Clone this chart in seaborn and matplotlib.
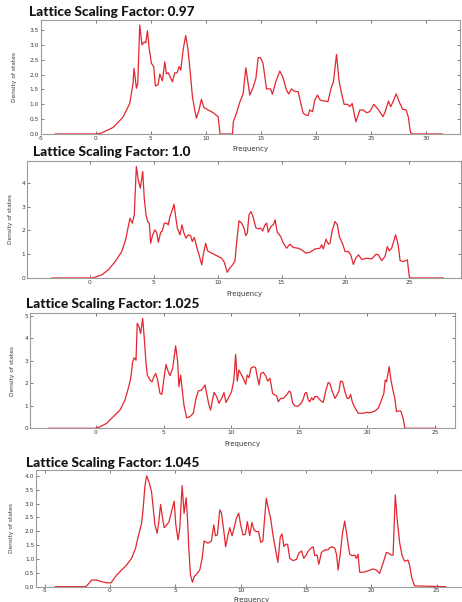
import numpy as np
import pandas as pd
import matplotlib
matplotlib.use("Agg")
import matplotlib.pyplot as plt
import seaborn as sns

# ---------------- data ----------------
titles = ["Lattice Scaling Factor: 0.97", "Lattice Scaling Factor: 1.0",
          "Lattice Scaling Factor: 1.025", "Lattice Scaling Factor: 1.045"]

freq_097 = [
    -3.7, 0.0, 0.5, 1.0, 1.58, 2.0, 2.48, 3.09, 3.39, 3.48,
    3.7, 3.82, 4.0, 4.2, 4.39, 4.55, 4.7, 4.85, 5.06, 5.27,
    5.42, 5.67, 5.82, 6.06, 6.27, 6.42, 6.6, 6.79, 6.97, 7.18,
    7.39, 7.58, 7.73, 7.94, 8.18, 8.39, 8.6, 8.79, 9.0, 9.15,
    9.39, 9.6, 9.82, 10.2, 10.67, 11.12, 11.3, 12.43, 12.5, 12.79,
    13.09, 13.39, 13.64, 14.0, 14.3, 14.55, 14.76, 14.97, 15.2, 15.52,
    15.88, 16.06, 16.36, 16.73, 17.0, 17.33, 17.54, 17.79, 18.09, 18.39,
    18.6, 18.85, 19.09, 19.3, 19.45, 19.7, 19.9, 20.15, 20.4, 20.8,
    21.1, 21.4, 21.6, 21.88, 22.1, 22.3, 22.57, 22.88, 23.1, 23.3,
    23.64, 24.0, 24.3, 24.6, 24.9, 25.27, 25.67, 26.1, 26.3, 26.6,
    26.8, 27.0, 27.3, 27.6, 27.9, 28.2, 28.4, 28.6, 28.8, 31.5]
dos_097 = [
    0.0, 0.0, 0.03, 0.12, 0.22, 0.38, 0.57, 1.03, 1.71, 2.21,
    1.54, 1.71, 3.67, 3.0, 3.1, 3.07, 3.48, 2.9, 2.38, 2.27,
    1.62, 1.66, 2.02, 1.79, 2.43, 2.03, 2.06, 1.9, 1.76, 2.06,
    2.06, 2.27, 2.15, 2.83, 3.32, 2.83, 2.02, 1.25, 0.81, 0.53,
    0.81, 1.17, 0.9, 0.81, 0.72, 0.58, 0.0, 0.0, 0.41, 0.7,
    1.07, 1.35, 2.23, 1.31, 1.56, 1.87, 2.57, 2.57, 2.38, 1.52,
    1.52, 1.34, 1.76, 2.12, 1.92, 1.48, 1.35, 1.52, 1.43, 1.43,
    1.09, 0.7, 0.64, 0.62, 0.81, 0.75, 1.14, 1.31, 1.14, 1.11,
    1.09, 1.56, 1.76, 2.68, 1.82, 1.43, 1.0, 1.0, 0.92, 1.03,
    0.41, 0.81, 0.81, 0.72, 0.75, 1.0, 0.83, 0.58, 0.75, 1.11,
    0.92, 1.07, 1.35, 1.06, 0.83, 0.81, 0.58, 0.05, 0.0, 0.0]

freq_100 = [
    -3.0, 0.2, 0.91, 1.44, 1.96, 2.48, 2.79, 3.0, 3.13, 3.31,
    3.47, 3.63, 3.78, 3.94, 4.13, 4.25, 4.39, 4.52, 4.65, 4.75,
    4.91, 5.09, 5.22, 5.35, 5.54, 5.66, 5.82, 6.0, 6.13, 6.26,
    6.45, 6.58, 6.71, 6.84, 7.05, 7.2, 7.36, 7.52, 7.7, 7.88,
    8.01, 8.17, 8.35, 8.54, 8.75, 8.87, 9.06, 9.21, 9.53, 9.92,
    10.31, 10.52, 10.75, 10.96, 11.17, 11.35, 11.49, 11.67, 11.88, 12.06,
    12.19, 12.32, 12.45, 12.61, 12.79, 12.98, 13.18, 13.37, 13.52, 13.7,
    13.84, 13.96, 14.17, 14.38, 14.49, 14.67, 14.93, 15.14, 15.4, 15.66,
    15.92, 16.31, 16.58, 16.91, 17.23, 17.62, 18.01, 18.14, 18.27, 18.48,
    18.66, 18.79, 18.98, 19.19, 19.37, 19.52, 19.79, 19.97, 20.23, 20.42,
    20.62, 20.81, 21.02, 21.28, 21.67, 22.06, 22.4, 22.58, 22.84, 23.1,
    23.28, 23.44, 23.62, 23.93, 24.14, 24.28, 24.53, 24.85, 25.0, 25.1,
    27.67]
dos_100 = [
    0.0, 0.0, 0.13, 0.34, 0.68, 1.1, 1.6, 2.16, 2.51, 2.3,
    2.65, 4.68, 4.12, 3.77, 4.47, 3.35, 2.65, 2.37, 2.3, 1.46,
    1.81, 2.02, 1.92, 1.5, 1.92, 1.97, 2.3, 2.3, 2.23, 2.58,
    2.86, 3.1, 2.58, 2.09, 1.81, 2.23, 1.88, 1.67, 1.81, 1.78,
    1.53, 1.7, 1.32, 0.97, 0.55, 0.97, 1.46, 1.14, 1.04, 0.94,
    0.83, 0.66, 0.24, 0.43, 0.55, 0.71, 1.53, 2.4, 2.3, 2.09,
    1.78, 1.88, 2.65, 2.79, 2.54, 2.12, 2.06, 2.09, 1.97, 2.23,
    2.3, 1.92, 2.16, 2.25, 2.44, 1.92, 1.74, 1.46, 1.25, 1.42,
    1.28, 1.25, 1.18, 1.04, 1.08, 1.22, 1.25, 1.39, 1.22, 1.63,
    1.42, 1.46, 2.02, 2.37, 2.23, 1.74, 1.42, 1.11, 1.11, 0.97,
    0.57, 0.83, 0.97, 0.78, 0.83, 0.8, 1.0, 0.97, 0.73, 0.9,
    1.32, 1.14, 1.25, 1.81, 1.36, 0.73, 0.69, 0.76, 0.06, 0.0,
    0.0]

freq_1025 = [
    -3.5, 0.0, 0.32, 0.81, 1.3, 1.79, 2.16, 2.4, 2.58, 2.72,
    2.84, 2.97, 3.06, 3.19, 3.31, 3.46, 3.58, 3.7, 3.8, 4.0,
    4.15, 4.29, 4.42, 4.56, 4.73, 4.88, 5.03, 5.18, 5.3, 5.47,
    5.67, 5.77, 5.89, 6.04, 6.13, 6.26, 6.35, 6.5, 6.7, 6.94,
    7.19, 7.39, 7.56, 7.8, 8.05, 8.17, 8.34, 8.47, 8.62, 8.73,
    8.91, 9.08, 9.28, 9.45, 9.6, 9.76, 10.01, 10.18, 10.31, 10.43,
    10.55, 10.75, 10.92, 11.05, 11.16, 11.29, 11.44, 11.61, 11.78, 11.9,
    12.03, 12.17, 12.34, 12.52, 12.67, 12.84, 13.03, 13.2, 13.33, 13.45,
    13.62, 13.81, 14.06, 14.26, 14.36, 14.5, 14.68, 14.92, 15.17, 15.29,
    15.41, 15.54, 15.66, 15.78, 15.9, 16.02, 16.15, 16.32, 16.52, 16.76,
    16.96, 17.13, 17.25, 17.42, 17.62, 17.75, 17.92, 18.04, 18.19, 18.36,
    18.53, 18.65, 18.78, 18.9, 19.09, 19.34, 19.7, 19.96, 20.2, 20.57,
    20.81, 21.06, 21.23, 21.33, 21.43, 21.62, 21.75, 21.92, 22.04, 22.16,
    22.28, 22.48, 22.65, 22.78, 25.1]
dos_1025 = [
    0.0, 0.0, 0.07, 0.22, 0.52, 0.81, 1.26, 1.78, 2.22, 2.96,
    3.14, 3.03, 4.67, 4.52, 4.22, 4.89, 4.0, 2.96, 2.37, 2.15,
    2.07, 2.3, 2.44, 2.15, 1.56, 1.51, 2.22, 2.84, 2.59, 2.34,
    2.67, 3.11, 3.67, 2.96, 1.85, 2.37, 1.85, 1.04, 0.47, 0.52,
    0.67, 1.33, 1.66, 1.7, 1.93, 1.56, 1.04, 0.81, 1.33, 1.6,
    1.41, 1.11, 1.33, 1.59, 1.15, 1.33, 1.63, 2.15, 3.29, 2.1,
    2.59, 2.37, 2.15, 1.96, 2.37, 2.25, 2.67, 2.74, 2.7, 2.3,
    1.93, 2.44, 2.49, 2.34, 2.1, 2.22, 1.56, 1.48, 1.45, 1.18,
    1.33, 1.33, 1.48, 1.66, 1.6, 1.14, 0.99, 0.99, 1.14, 1.3,
    1.56, 1.6, 1.26, 1.18, 1.36, 1.26, 1.41, 1.41, 1.26, 1.15,
    1.7, 2.04, 2.0, 1.66, 1.33, 1.45, 1.66, 2.1, 2.07, 1.63,
    1.33, 1.33, 1.51, 1.18, 0.92, 0.67, 0.67, 0.71, 0.69, 0.77,
    0.89, 1.26, 1.56, 2.15, 2.07, 2.74, 2.15, 1.63, 1.33, 0.74,
    0.77, 0.77, 0.44, 0.0, 0.0]

freq_1045 = [
    -4.2, -1.85, -1.73, -1.4, -1.02, -0.64, -0.25, 0.08, 0.51, 0.89,
    1.27, 1.65, 1.96, 2.16, 2.42, 2.54, 2.67, 2.8, 2.98, 3.18,
    3.31, 3.44, 3.61, 3.74, 3.87, 4.02, 4.15, 4.33, 4.5, 4.71,
    4.91, 5.04, 5.21, 5.34, 5.52, 5.67, 5.83, 5.93, 6.03, 6.16,
    6.31, 6.44, 6.62, 6.87, 7.05, 7.2, 7.5, 7.76, 7.94, 8.07,
    8.22, 8.4, 8.52, 8.7, 8.85, 9.03, 9.16, 9.34, 9.49, 9.67,
    9.85, 10.0, 10.18, 10.36, 10.51, 10.69, 10.86, 11.02, 11.2, 11.37,
    11.53, 11.7, 11.83, 11.96, 12.14, 12.29, 12.47, 12.67, 12.85, 13.03,
    13.16, 13.31, 13.44, 13.59, 13.76, 14.02, 14.27, 14.45, 14.66, 14.83,
    15.04, 15.17, 15.37, 15.55, 15.67, 15.85, 15.98, 16.18, 16.44, 16.69,
    16.82, 17.0, 17.2, 17.33, 17.46, 17.63, 17.79, 17.96, 18.14, 18.34,
    18.53, 18.73, 18.85, 18.98, 19.11, 19.37, 19.72, 20.13, 20.38, 20.63,
    20.89, 21.15, 21.32, 21.53, 21.66, 21.83, 21.98, 22.16, 22.34, 22.54,
    22.8, 22.92, 23.1, 23.31, 25.7]
dos_1045 = [
    0.0, 0.0, 0.06, 0.24, 0.24, 0.18, 0.14, 0.14, 0.42, 0.6,
    0.78, 1.02, 1.39, 1.81, 2.29, 2.83, 3.61, 4.0, 3.79, 3.43,
    2.83, 2.23, 1.93, 2.35, 2.97, 2.49, 2.13, 2.23, 2.32, 2.71,
    3.09, 2.23, 1.69, 2.11, 3.65, 2.65, 3.21, 2.47, 1.39, 0.42,
    0.16, 0.36, 0.45, 0.6, 1.02, 1.65, 1.57, 1.65, 2.23, 1.84,
    1.87, 2.77, 2.68, 2.05, 1.44, 1.87, 2.13, 1.84, 2.11, 2.47,
    2.65, 2.23, 1.87, 1.89, 2.35, 1.84, 2.32, 2.05, 1.99, 1.99,
    1.6, 1.65, 2.47, 3.19, 2.77, 2.47, 1.87, 1.33, 0.88, 1.8,
    1.9, 1.45, 1.53, 1.53, 1.02, 0.94, 0.99, 1.21, 1.29, 1.02,
    1.17, 1.29, 1.39, 1.44, 1.12, 1.14, 0.81, 1.24, 1.33, 1.33,
    1.41, 1.44, 1.39, 1.17, 0.6, 1.24, 1.93, 2.37, 1.81, 1.17,
    1.12, 1.14, 1.02, 1.17, 0.52, 0.52, 0.57, 0.64, 0.6, 0.48,
    0.84, 1.24, 1.21, 1.14, 1.14, 3.31, 2.41, 1.6, 1.14, 0.92,
    0.96, 0.78, 0.3, 0.03, 0.0]

xticks_097 = [-5, 0, 5, 10, 15, 20, 25, 30]
yticks_097 = [0.0, 0.5, 1.0, 1.5, 2.0, 2.5, 3.0, 3.5]
xticks_100 = [0, 5, 10, 15, 20, 25]
yticks_100 = [0, 1, 2, 3, 4]
xticks_1025 = [0, 5, 10, 15, 20, 25]
yticks_1025 = [0, 1, 2, 3, 4, 5]
xticks_1045 = [-5, 0, 5, 10, 15, 20, 25]
yticks_1045 = [0.0, 0.5, 1.0, 1.5, 2.0, 2.5, 3.0, 3.5, 4.0]

# ---------------- layout / style ----------------
W, H = 462, 602
sns.set_theme(style="white")
plt.rcParams["font.family"] = ["DejaVu Sans"]

LINE = "#e3262f"
SPINE = "#9c9c9c"
TXT = "#3a3a3a"

# (left, top, right, bottom) in pixels, xlim, ylim, ylabel offset px, title pos
panels = [
    dict(freq=freq_097, dos=dos_097, xt=xticks_097, yt=yticks_097, ytf="{:.1f}",
         box=(40.7, 20, 460, 134), xlim=(-5.0, 33.1), ylim=(0, 3.84),
         ylab_dx=24, xlab_dy=12, title_xy=(29, 15.5)),
    dict(freq=freq_100, dos=dos_100, xt=xticks_100, yt=yticks_100, ytf="{:d}",
         box=(27, 161, 461, 278), xlim=(-4.93, 29.05), ylim=(0, 4.91),
         ylab_dx=14, xlab_dy=13, title_xy=(33, 155.5)),
    dict(freq=freq_1025, dos=dos_1025, xt=xticks_1025, yt=yticks_1025, ytf="{:d}",
         box=(30, 313, 455, 428.3), xlim=(-4.84, 26.47), ylim=(0, 5.13),
         ylab_dx=15, xlab_dy=12.4, title_xy=(26, 308)),
    dict(freq=freq_1045, dos=dos_1045, xt=xticks_1045, yt=yticks_1045, ytf="{:.1f}",
         box=(36, 469.5, 466, 586.7), xlim=(-5.66, 27.24), ylim=(0, 4.23),
         ylab_dx=22, xlab_dy=10.5, title_xy=(26, 467)),
]

fig = plt.figure(figsize=(W / 100, H / 100), dpi=100)
fig.patch.set_facecolor("white")

for p, title in zip(panels, titles):
    l, t, r, b = p["box"]
    ax = fig.add_axes([l / W, 1 - b / H, (r - l) / W, (b - t) / H])
    df = pd.DataFrame({"Frequency": p["freq"], "Density of states": p["dos"]})
    sns.lineplot(data=df, x="Frequency", y="Density of states", ax=ax,
                 color=LINE, linewidth=0.9, sort=False, estimator=None)
    ax.set_xlim(*p["xlim"])
    ax.set_ylim(*p["ylim"])
    ax.set_xticks(p["xt"])
    ax.set_xticklabels([str(v) for v in p["xt"]])
    ax.set_yticks(p["yt"])
    ax.set_yticklabels([p["ytf"].format(v) for v in p["yt"]])
    for s in ax.spines.values():
        s.set_visible(True)
        s.set_color(SPINE)
        s.set_linewidth(0.8)
    ax.tick_params(axis="both", which="major", direction="in", length=2.5,
                   width=0.6, color="#666666", labelsize=4.2, labelcolor=TXT,
                   pad=1.2, top=True, right=True, bottom=True, left=True)
    ax.set_xlabel("Frequency", fontsize=5, color=TXT)
    ax.set_ylabel("Density of states", fontsize=4.2, color=TXT)
    ax.xaxis.set_label_coords(0.5, -p["xlab_dy"] / (b - t), transform=ax.transAxes)
    ax.yaxis.set_label_coords(-p["ylab_dx"] / (r - l), 0.5, transform=ax.transAxes)
    ax.grid(False)

# titles
title_objs = []
for p, title in zip(panels, titles):
    x, y = p["title_xy"]
    tt = fig.text(x / W, 1 - y / H, title, fontsize=10, fontweight="black",
                  family=["Lato", "DejaVu Sans"], color="#141414",
                  ha="left", va="baseline")
    title_objs.append(tt)

fig.canvas.draw()
w0 = title_objs[0].get_window_extent().width
fs = 10 * 164.0 / w0
for tt in title_objs:
    tt.set_fontsize(fs)

fig.savefig("out.png", dpi=100, facecolor="white")
